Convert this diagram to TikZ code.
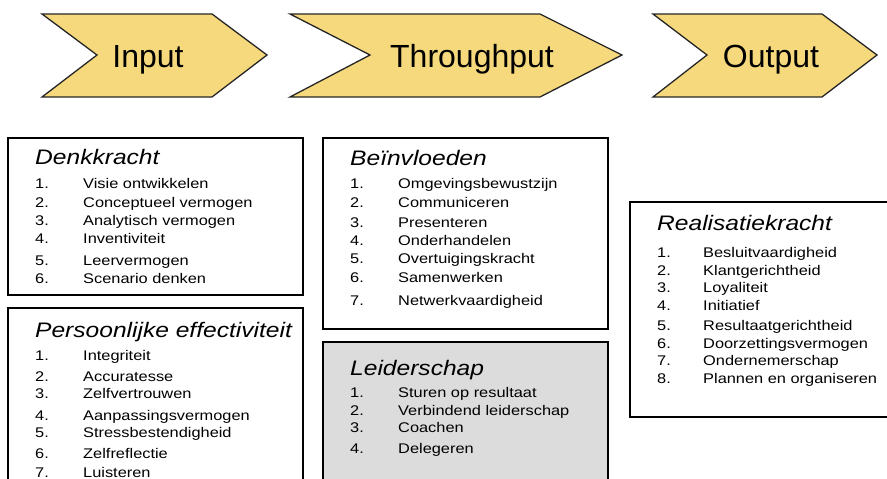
\documentclass[tikz,border=0pt]{standalone}
\usepackage{fontspec}
\setmainfont{Liberation Sans}
\newfontfamily\boxfont[FakeStretch=1.17]{Liberation Sans}
\newfontfamily\chevfont{Liberation Sans}
\definecolor{chev}{RGB}{245,217,124}
\definecolor{lgrey}{RGB}{220,220,220}
\begin{document}
\begin{tikzpicture}[x=1pt,y=-1pt,
  chevshape/.style={draw=black!85,line width=1.3pt,fill=chev,line join=miter},
  chevtext/.style={anchor=base,inner sep=0pt,font=\chevfont\fontsize{32}{36}\selectfont},
  panel/.style={draw=black,line width=1.4pt,fill=white},
  title/.style={anchor=base west,inner sep=0pt,font=\boxfont\itshape\fontsize{21}{24}\selectfont},
  num/.style={anchor=base west,inner sep=0pt,font=\boxfont\fontsize{14}{16}\selectfont},
  item/.style={anchor=base west,inner sep=0pt,font=\boxfont\fontsize{14}{16}\selectfont}]
\useasboundingbox (0,0) rectangle (887,479);
\clip (0,0) rectangle (887,479);
% chevrons
\draw[chevshape] (42,14) -- (212,14) -- (267,55) -- (212,97) -- (42,97) -- (97,55) -- cycle;
\draw[chevshape] (290,14) -- (540,14) -- (622,55) -- (540,97) -- (290,97) -- (370,55) -- cycle;
\draw[chevshape] (653,14) -- (822,14) -- (877,55) -- (822,97) -- (653,97) -- (707,55) -- cycle;
\node[chevtext] (tin) at (148,67) {Input};
\node[chevtext] (tthr) at (472,67) {Throughput};
\node[chevtext] (tout) at (771,67) {Output};
% panels
\draw[panel] (8,138) rectangle (303,295);
\draw[panel] (8,308) rectangle (303,500);
\draw[panel] (323,138) rectangle (608,329);
\draw[panel,fill=lgrey] (323,342) rectangle (608,500);
\draw[panel] (630,202) rectangle (895,417);
% Denkkracht
\node[title] (dk) at (35,164) {Denkkracht};
\foreach \n/\t/\y in {1/Visie ontwikkelen/183,2/Conceptueel vermogen/202,3/Analytisch vermogen/220,4/Inventiviteit/238,5/Leervermogen/260,6/Scenario denken/278}{
  \node[num] (dkn\n) at (35,\y+5) {\n.};
  \node[item] (dki\n) at (83,\y+5) {\t};
}
% Persoonlijke effectiviteit
\node[title] (pe) at (35,337) {Persoonlijke effectiviteit};
\foreach \n/\t/\y in {1/Integriteit/355,2/Accuratesse/376,3/Zelfvertrouwen/393,4/Aanpassingsvermogen/415,5/Stressbestendigheid/432,6/Zelfreflectie/453,7/Luisteren/472}{
  \node[num] (pen\n) at (35,\y+5) {\n.};
  \node[item] (pei\n) at (83,\y+5) {\t};
}
% Beinvloeden
\node[title] (bv) at (350,165) {Beïnvloeden};
\foreach \n/\t/\y in {1/Omgevingsbewustzijn/183,2/Communiceren/202,3/Presenteren/222,4/Onderhandelen/240,5/Overtuigingskracht/258,6/Samenwerken/277,7/Netwerkvaardigheid/300}{
  \node[num] (bvn\n) at (350,\y+5) {\n.};
  \node[item] (bvi\n) at (398,\y+5) {\t};
}
% Leiderschap
\node[title] (ls) at (350,375) {Leiderschap};
\foreach \n/\t/\y in {1/Sturen op resultaat/392,2/Verbindend leiderschap/410,3/Coachen/427,4/Delegeren/448}{
  \node[num] (lsn\n) at (350,\y+5) {\n.};
  \node[item] (lsi\n) at (398,\y+5) {\t};
}
% Realisatiekracht
\node[title] (rk) at (657,230) {Realisatiekracht};
\foreach \n/\t/\y in {1/Besluitvaardigheid/252,2/Klantgerichtheid/270,3/Loyaliteit/287,4/Initiatief/305,5/Resultaatgerichtheid/325,6/Doorzettingsvermogen/343,7/Ondernemerschap/360,8/Plannen en organiseren/378}{
  \node[num] (rkn\n) at (657,\y+5) {\n.};
  \node[item] (rki\n) at (703,\y+5) {\t};
}
\end{tikzpicture}
\end{document}
